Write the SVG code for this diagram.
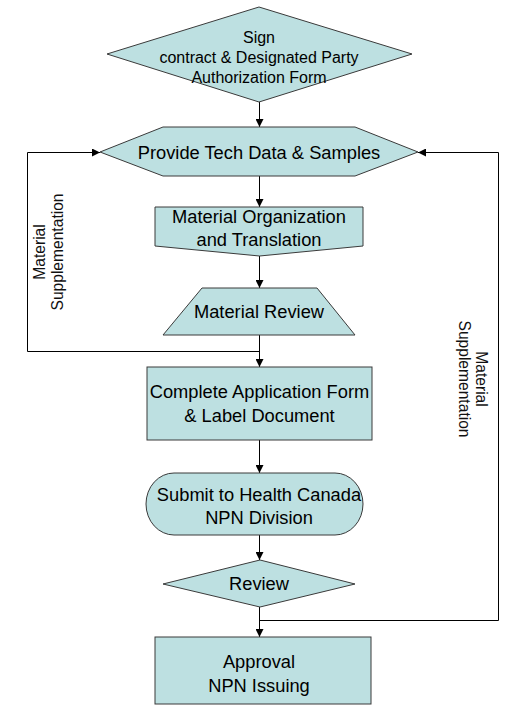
<svg xmlns="http://www.w3.org/2000/svg" width="530" height="720" viewBox="0 0 530 720">
<defs>
<marker id="ah" viewBox="0 0 10 10" refX="10" refY="5" markerWidth="8" markerHeight="8" markerUnits="userSpaceOnUse" orient="auto">
<path d="M0,0 L10,5 L0,10 z" fill="#000"/>
</marker>
<style>
.shape{fill:#BDE0E1;stroke:#3a3a3a;stroke-width:1}
.t{font-family:"Liberation Sans",Arial,sans-serif;font-size:18.3px;fill:#000;text-anchor:middle}
.s{font-size:16px}
.lab{font-family:"Liberation Sans",Arial,sans-serif;font-size:15.6px;fill:#111;text-anchor:middle}
.c{fill:none;stroke:#000;stroke-width:1}
</style>
</defs>
<rect width="530" height="720" fill="#fff"/>
<g id="connectors">
<line class="c" x1="259.5" y1="102" x2="259.5" y2="127" marker-end="url(#ah)"/>
<line class="c" x1="259.5" y1="176" x2="259.5" y2="207" marker-end="url(#ah)"/>
<line class="c" x1="259.5" y1="256" x2="259.5" y2="288" marker-end="url(#ah)"/>
<line class="c" x1="259.5" y1="335" x2="259.5" y2="367" marker-end="url(#ah)"/>
<line class="c" x1="259.5" y1="440" x2="259.5" y2="473" marker-end="url(#ah)"/>
<line class="c" x1="259.5" y1="535" x2="259.5" y2="560" marker-end="url(#ah)"/>
<line class="c" x1="259.5" y1="607" x2="259.5" y2="637" marker-end="url(#ah)"/>
<polyline class="c" points="259.5,351.5 27.5,351.5 27.5,152.5 100,152.5" marker-end="url(#ah)"/>
<polyline class="c" points="259.5,620.5 498.5,620.5 498.5,152.5 418,152.5" marker-end="url(#ah)"/>
<text class="lab" transform="translate(45,252) rotate(-90)"><tspan x="0" y="0">Material</tspan><tspan x="0" y="17.5">Supplementation</tspan></text>
<text class="lab" transform="translate(476,379) rotate(90)"><tspan x="0" y="0">Material</tspan><tspan x="0" y="17.5">Supplementation</tspan></text>
</g>
<g id="sign">
<polygon class="shape" points="259,7 412,54 259,102 107,54"/>
<text class="t s"><tspan x="259" y="43">Sign</tspan><tspan x="259" y="63">contract &amp; Designated Party</tspan><tspan x="259" y="83">Authorization Form</tspan></text>
</g>
<g id="provide">
<polygon class="shape" points="100,152 163,127 355,127 418,152 355,176 163,176"/>
<text class="t" x="259" y="158.5">Provide Tech Data &amp; Samples</text>
</g>
<g id="organization">
<polygon class="shape" points="155,207 363,207 363,246 259.5,256 155,246"/>
<text class="t"><tspan x="259" y="223">Material Organization</tspan><tspan x="259" y="246">and Translation</tspan></text>
</g>
<g id="review1">
<polygon class="shape" points="202,288 317,288 355,335 163,335"/>
<text class="t" x="259" y="318">Material Review</text>
</g>
<g id="complete">
<rect class="shape" x="147" y="367" width="225" height="73"/>
<text class="t"><tspan x="259.5" y="398">Complete Application Form</tspan><tspan x="259.5" y="422">&amp; Label Document</tspan></text>
</g>
<g id="submit">
<rect class="shape" x="146" y="473" width="217" height="62" rx="28" ry="31"/>
<text class="t"><tspan x="259" y="501">Submit to Health Canada</tspan><tspan x="259" y="524">NPN Division</tspan></text>
</g>
<g id="review2">
<polygon class="shape" points="260,560 355,584 260,607 163,584"/>
<text class="t" x="259" y="590">Review</text>
</g>
<g id="approval">
<rect class="shape" x="155" y="637" width="216" height="67"/>
<text class="t"><tspan x="259" y="668">Approval</tspan><tspan x="259" y="692">NPN Issuing</tspan></text>
</g>
</svg>
